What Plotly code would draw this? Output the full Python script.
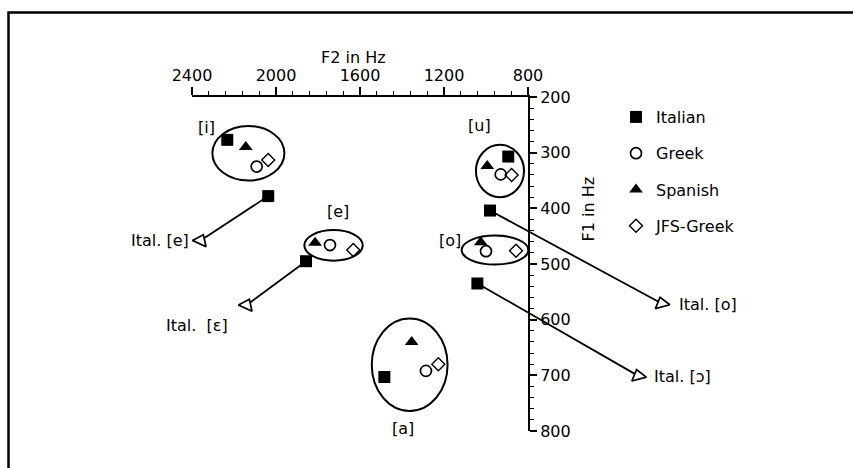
import numpy as np
import plotly.graph_objects as go

W, H = 853, 468
FONT = "DejaVu Sans"

# Formant frequency ticks
f2_ticks = [2400, 2000, 1600, 1200, 800]
f1_ticks = [200, 300, 400, 500, 600, 700, 800]
f2_minor = list(range(800, 2401, 80))
f1_minor = list(range(200, 801, 20))

# Vowel means (F2, F1) per speaker group
italian_f2 = [2232, 894, 1484, 2037, 1857, 981, 1041]
italian_f1 = [277, 307, 703, 378, 495, 404, 535]
greek_f2 = [2092, 1743, 1000, 930, 1286]
greek_f1 = [325, 466, 477, 339, 692]
spanish_f2 = [2144, 1814, 1025, 994, 1354]
spanish_f1 = [290, 462, 461, 324, 640]
jfs_f2 = [2037, 1632, 857, 878, 1227]
jfs_f1 = [313, 475, 476, 340, 680]

# Italian shifts: from the square to the open triangle
shift_from_f2 = [2037, 1857, 981, 1041]
shift_from_f1 = [378, 495, 404, 535]
shift_to_f2 = [2359, 2140, 163, 275]
shift_to_f1 = [458, 574, 571, 701]
shift_labels = ["Ital. [e]", "Ital.  [\u025b]", "Ital. [o]", "Ital. [\u0254]"]

# Vowel category ellipses (F2 from, F2 to, F1 from, F1 to)
ell_names = ["[i]", "[e]", "[o]", "[u]", "[a]"]
ell_f2a = [2303, 1865, 1116, 1048, 1544]
ell_f2b = [1960, 1587, 798, 819, 1183]
ell_f1a = [252, 439, 449, 286, 598]
ell_f1b = [350, 494, 501, 380, 764]
ell_lab_f2 = [2330, 1703, 1171, 1032, 1394]
ell_lab_f1 = [254, 406, 458, 252, 795]

# Axis placement in pixels
X_LEFT, X_RIGHT = 192, 528   # 2400 Hz .. 800 Hz
Y_TOP, Y_BOT = 97, 431       # 200 Hz .. 800 Hz
sx = (2400 - 800) / (X_RIGHT - X_LEFT)
sy = (800 - 200) / (Y_BOT - Y_TOP)
x_range = [2400 + X_LEFT * sx, 800 - (W - X_RIGHT) * sx]
y_range = [800 + (H - Y_BOT) * sy, 200 - Y_TOP * sy]

fig = go.Figure()

# shift lines
for i in range(len(shift_from_f2)):
    fig.add_trace(go.Scatter(
        x=[shift_from_f2[i], shift_to_f2[i]], y=[shift_from_f1[i], shift_to_f1[i]],
        mode="lines", line=dict(color="black", width=1.8),
        showlegend=False, hoverinfo="skip"))

fig.add_trace(go.Scatter(
    x=shift_to_f2, y=shift_to_f1, mode="markers",
    marker=dict(symbol="triangle-up", size=13, color="white",
                angle=[25, 25, -15, -15],
                line=dict(color="black", width=1.7)),
    showlegend=False, hoverinfo="skip"))

fig.add_trace(go.Scatter(
    x=italian_f2, y=italian_f1, mode="markers", name="Italian", legendgroup="a",
    marker=dict(symbol="square", size=12, color="black")))
fig.add_trace(go.Scatter(
    x=greek_f2, y=greek_f1, mode="markers", name="Greek", legendgroup="b",
    marker=dict(symbol="circle-open", size=11, color="black", line=dict(width=1.7))))
fig.add_trace(go.Scatter(
    x=spanish_f2, y=spanish_f1, mode="markers", name="Spanish", legendgroup="c",
    marker=dict(symbol="triangle-up", size=12, color="black")))
fig.add_trace(go.Scatter(
    x=jfs_f2, y=jfs_f1, mode="markers", name="JFS-Greek", legendgroup="d",
    marker=dict(symbol="diamond-open", size=10, color="black", line=dict(width=1.4))))

# frame-only axis pair
fig.add_trace(go.Scatter(x=[], y=[], xaxis="x2", yaxis="y2", showlegend=False))

shapes = []
for i in range(len(ell_names)):
    shapes.append(dict(type="circle", xref="x", yref="y",
                       x0=ell_f2a[i], x1=ell_f2b[i], y0=ell_f1a[i], y1=ell_f1b[i],
                       line=dict(color="black", width=2)))
# page frame: left and top edges only
fx, fy = 8.5 / W, 1 - 12.5 / H
shapes.append(dict(type="path", xref="paper", yref="paper",
                   path=f"M {fx},0 L {fx},{fy} L 1.01,{fy}",
                   line=dict(color="black", width=2.5)))

annotations = []
for i in range(len(ell_names)):
    annotations.append(dict(x=ell_lab_f2[i], y=ell_lab_f1[i], xref="x", yref="y",
                            text=ell_names[i], showarrow=False,
                            font=dict(family=FONT, size=16, color="black")))
shift_anchor = [("right", -10, 0), ("center", -50, -20), ("left", 15, -1), ("left", 14, -1)]
for i, lab in enumerate(shift_labels):
    xa, xs, ys = shift_anchor[i]
    annotations.append(dict(x=shift_to_f2[i], y=shift_to_f1[i], xref="x", yref="y",
                            text=lab, showarrow=False, xanchor=xa, xshift=xs, yshift=ys,
                            font=dict(family=FONT, size=16, color="black")))
annotations.append(dict(x=353 / W, y=1 - 46 / H, xref="paper", yref="paper",
                        text="F2 in Hz", showarrow=False,
                        font=dict(family=FONT, size=16, color="black")))
annotations.append(dict(x=600 / W, y=1 - 209 / H, xref="paper", yref="paper",
                        text="F1 in Hz", showarrow=False, textangle=-90,
                        font=dict(family=FONT, size=16, color="black")))

axis_font = dict(family=FONT, size=16, color="black")
fig.update_layout(
    width=W, height=H, margin=dict(l=0, r=0, t=0, b=0, autoexpand=False),
    paper_bgcolor="white", plot_bgcolor="rgba(0,0,0,0)",
    xaxis=dict(range=x_range, domain=[0, 1], visible=False, fixedrange=True),
    yaxis=dict(range=y_range, domain=[0, 1], visible=False, fixedrange=True),
    xaxis2=dict(domain=[X_LEFT / W, X_RIGHT / W], range=[2400, 800], anchor="y2",
                side="top", showline=True, linecolor="black", linewidth=2,
                ticks="outside", ticklen=8, tickwidth=1.5, tickcolor="black",
                tickmode="array", tickvals=f2_ticks, tickfont=axis_font,
                minor=dict(tickmode="array", tickvals=f2_minor, ticks="outside",
                           ticklen=4, tickwidth=1.2, tickcolor="black", showgrid=False),
                showgrid=False, zeroline=False, automargin=False),
    yaxis2=dict(domain=[1 - Y_BOT / H, 1 - Y_TOP / H], range=[800, 200], anchor="x2",
                side="right", showline=True, linecolor="black", linewidth=2,
                ticks="outside", ticklen=7, tickwidth=1.5, tickcolor="black",
                tickmode="array", tickvals=f1_ticks, tickfont=axis_font,
                minor=dict(tickmode="array", tickvals=f1_minor, ticks="outside",
                           ticklen=4, tickwidth=1.2, tickcolor="black", showgrid=False),
                showgrid=False, zeroline=False, automargin=False),
    showlegend=True,
    legend=dict(x=616 / W, y=1 - 100 / H, xanchor="left", yanchor="top",
                font=dict(family=FONT, size=16, color="black"),
                tracegroupgap=12.5, bgcolor="rgba(0,0,0,0)"),
    shapes=shapes, annotations=annotations,
)

fig.write_html("out.html")
